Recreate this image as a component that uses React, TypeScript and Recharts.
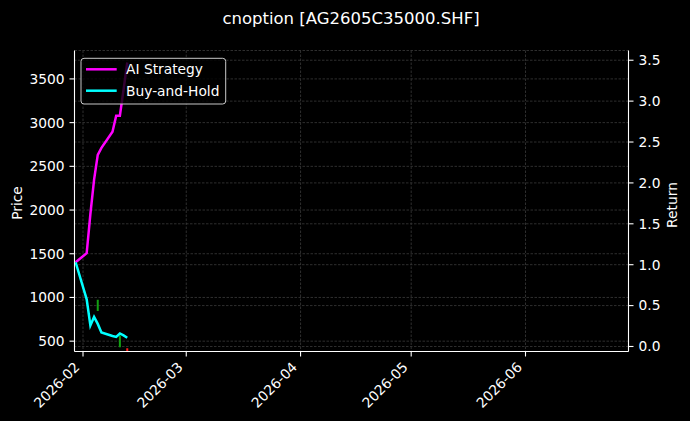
import React from 'react';
import { ComposedChart, Line, XAxis, YAxis, CartesianGrid, ReferenceLine } from 'recharts';

// ---- data ----
const dates = [
  '2026-01-30', '2026-02-02', '2026-02-03', '2026-02-04', '2026-02-05', '2026-02-06',
  '2026-02-09', '2026-02-10', '2026-02-11', '2026-02-12', '2026-02-13',
];
const aiStrategy = [1.03, 1.141, 1.619, 2.037, 2.343, 2.429, 2.625, 2.822, 2.822, 3.141, 3.472];
const buyAndHold = [1.03, 0.577, 0.258, 0.362, 0.276, 0.172, 0.129, 0.117, 0.159, 0.135, 0.107];

const markerDates = ['2026-02-05', '2026-02-11', '2026-02-13'];
const markerLow = [844, 431, 385];
const markerHigh = [975, 565, 420];
const markerColors = ['#12a012', '#12a012', '#ff1a1a'];

const monthTicks = ['2026-02-01', '2026-03-01', '2026-04-01', '2026-05-01', '2026-06-01'];
const priceTicks = [500, 1000, 1500, 2000, 2500, 3000, 3500];
const returnTicks = [0, 0.5, 1, 1.5, 2, 2.5, 3, 3.5];
const xLimits = ['2026-01-29T16:40:00Z', '2026-06-28T22:20:00Z'];
const priceLimits = [381.8, 3825];
const returnLimits = [-0.0613, 3.619];

const TITLE = 'cnoption [AG2605C35000.SHF]';
const AI_COLOR = '#ff00ff';
const BH_COLOR = '#00ffff';
const FONT = 'DejaVu Sans, Verdana, sans-serif';
const GRID = '#3a3a3a';
const DASH = '2.5 1.5';

const toT = (d: string) => Date.parse(d.length === 10 ? d + 'T00:00:00Z' : d);

const rows = dates.map((d, i) => ({ t: toT(d), ai: aiStrategy[i], bh: buyAndHold[i] }));
const markers = markerDates.map((d, i) => ({
  color: markerColors[i],
  data: [
    { t: toT(d), p: markerLow[i] },
    { t: toT(d), p: markerHigh[i] },
  ],
}));
const xDomain = [toT(xLimits[0]), toT(xLimits[1])];
const xTicks = monthTicks.map(toT);

const MonthTick = (props: any) => {
  const { x, y, payload } = props;
  const label = new Date(payload.value).toISOString().slice(0, 7);
  const ax = x - 2.5;
  const ay = y + 9.5;
  return (
    <text
      x={ax}
      y={ay}
      transform={`rotate(-45 ${ax} ${ay})`}
      textAnchor="end"
      fill="#ffffff"
      fontSize={13.8}
      fontFamily={FONT}
    >
      {label}
    </text>
  );
};

const AXIS = { stroke: '#ffffff', strokeWidth: 1.1 };

export default function App() {
  return (
    <div style={{ position: 'absolute', left: 0, top: 0, width: 690, height: 421, background: '#000' }}>
      <ComposedChart
        width={690}
        height={421}
        data={rows}
        margin={{ top: 50.5, right: 0, bottom: 0, left: 0 }}
      >
        <CartesianGrid stroke={GRID} strokeDasharray={DASH} strokeWidth={0.8} />
        {returnTicks.map((v) => (
          <ReferenceLine
            key={'rg' + v}
            y={v}
            yAxisId="right"
            stroke={GRID}
            strokeDasharray={DASH}
            strokeWidth={0.8}
            ifOverflow="hidden"
          />
        ))}
        <XAxis
          dataKey="t"
          type="number"
          domain={xDomain}
          allowDataOverflow
          ticks={xTicks}
          interval={0}
          height={69.5}
          tickSize={5}
          tick={<MonthTick />}
          tickLine={AXIS}
          axisLine={AXIS}
        />
        <XAxis
          xAxisId="top"
          orientation="top"
          dataKey="t"
          type="number"
          domain={xDomain}
          allowDataOverflow
          height={0}
          tick={false}
          tickLine={false}
          axisLine={AXIS}
        />
        <YAxis
          type="number"
          domain={priceLimits}
          allowDataOverflow
          ticks={priceTicks}
          interval={0}
          width={74.5}
          tickSize={5}
          tickMargin={5}
          tick={{ fill: '#ffffff', fontSize: 13.8, fontFamily: FONT }}
          tickLine={AXIS}
          axisLine={AXIS}
        />
        <YAxis
          yAxisId="right"
          orientation="right"
          type="number"
          domain={returnLimits}
          allowDataOverflow
          ticks={returnTicks}
          interval={0}
          tickFormatter={(v: number) => v.toFixed(1)}
          width={61.5}
          tickSize={5}
          tickMargin={5}
          tick={{ fill: '#ffffff', fontSize: 13.8, fontFamily: FONT }}
          tickLine={AXIS}
          axisLine={AXIS}
        />
        {markers.map((m, i) => (
          <Line
            key={'m' + i}
            data={m.data}
            dataKey="p"
            type="linear"
            stroke={m.color}
            strokeWidth={2}
            strokeLinecap="butt"
            dot={false}
            activeDot={false}
            isAnimationActive={false}
            legendType="none"
          />
        ))}
        <Line
          dataKey="ai"
          yAxisId="right"
          type="linear"
          stroke={AI_COLOR}
          strokeWidth={2.5}
          dot={false}
          activeDot={false}
          isAnimationActive={false}
        />
        <Line
          dataKey="bh"
          yAxisId="right"
          type="linear"
          stroke={BH_COLOR}
          strokeWidth={2.5}
          dot={false}
          activeDot={false}
          isAnimationActive={false}
        />
      </ComposedChart>
      <svg
        width={690}
        height={421}
        style={{ position: 'absolute', left: 0, top: 0, pointerEvents: 'none' }}
      >
        <text x={351} y={24} textAnchor="middle" fill="#ffffff" fontSize={16.5} fontFamily={FONT}>
          {TITLE}
        </text>
        <text
          x={17}
          y={203}
          transform="rotate(-90 17 203)"
          textAnchor="middle"
          dominantBaseline="central"
          fill="#ffffff"
          fontSize={13.8}
          fontFamily={FONT}
        >
          Price
        </text>
        <text
          x={672}
          y={205}
          transform="rotate(-90 672 205)"
          textAnchor="middle"
          dominantBaseline="central"
          fill="#ffffff"
          fontSize={13.8}
          fontFamily={FONT}
        >
          Return
        </text>
        <rect x={81} y={58.3} width={144.7} height={45.7} rx={3} fill="#000" fillOpacity={0.8} stroke="#c8c8c8" strokeWidth={1} />
        <line x1={86} x2={116.7} y1={69.3} y2={69.3} stroke={AI_COLOR} strokeWidth={2.5} />
        <line x1={86} x2={116.7} y1={90.7} y2={90.7} stroke={BH_COLOR} strokeWidth={2.5} />
        <text x={126} y={74.4} fill="#ffffff" fontSize={13.8} fontFamily={FONT}>
          AI Strategy
        </text>
        <text x={126} y={95.8} fill="#ffffff" fontSize={13.8} fontFamily={FONT}>
          Buy-and-Hold
        </text>
      </svg>
    </div>
  );
}
